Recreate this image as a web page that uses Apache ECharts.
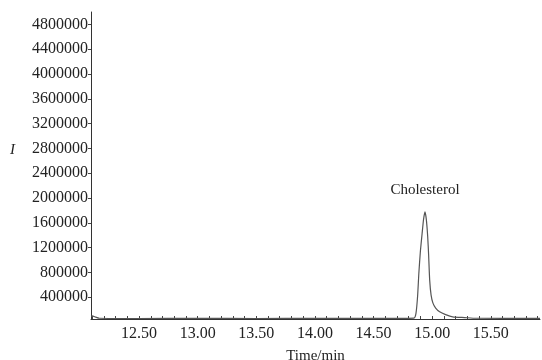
<!DOCTYPE html>
<html>
<head>
<meta charset="utf-8">
<script src="https://cdn.jsdelivr.net/npm/echarts@6/dist/echarts.min.js"></script>
<style>
  html, body { margin: 0; padding: 0; background: #fff; }
  #chart { width: 542px; height: 360px; }
</style>
</head>
<body>
<div id="chart"></div>
<script>
// chromatogram trace, time in min, intensity I
const times = [12.09, 12.1, 12.13, 12.16, 12.5, 13.0, 13.5, 14.0, 14.5, 14.845, 14.862, 14.876, 14.887, 14.9,
  14.914, 14.927, 14.939, 14.95, 14.962, 14.97, 14.979, 14.991, 15.007, 15.03, 15.064,
  15.115, 15.175, 15.277, 15.377, 15.6, 15.92];
const intensity = [95000, 100000, 80000, 62000, 58000, 60000, 58000, 60000, 60000, 65000, 140000, 420000, 800000, 1150000,
  1420000, 1660000, 1779000, 1660000, 1380000, 1081000, 677000, 435000, 306000, 226000, 166000,
  121000, 85000, 73000, 62000, 60000, 60000];

const xTickLabels = [12.5, 13.0, 13.5, 14.0, 14.5, 15.0, 15.5];
const yTickLabels = [400000, 800000, 1200000, 1600000, 2000000, 2400000, 2800000,
  3200000, 3600000, 4000000, 4400000, 4800000];
const peakName = 'Cholesterol';
const peakIndex = 16;

// small ticks every 0.1 min
const xTicks = [];
for (let t = 121; t <= 159; t++) xTicks.push(t / 10);

const chart = echarts.init(document.getElementById('chart'));

const serif = '"Liberation Serif", "DejaVu Serif", serif';
const ink = '#222';

const points = times.map((t, i) => [t, intensity[i]]);

chart.setOption({
  animation: false,
  grid: { left: 91, right: 2, top: 12, bottom: 41, containLabel: false, outerBoundsMode: 'none' },
  xAxis: {
    type: 'value',
    min: 12.09,
    max: 15.92,
    name: 'Time/min',
    nameLocation: 'middle',
    nameGap: 30,
    nameTextStyle: { fontFamily: serif, fontSize: 15, color: ink },
    axisLine: { lineStyle: { color: '#333', width: 1 } },
    axisTick: { customValues: xTicks, length: 3, inside: true, lineStyle: { color: '#444' } },
    axisLabel: {
      customValues: xTickLabels,
      formatter: (v) => v.toFixed(2),
      fontFamily: serif,
      fontSize: 16,
      color: ink,
      margin: 7
    },
    splitLine: { show: false }
  },
  yAxis: {
    type: 'value',
    min: 50000,
    max: 5000000,
    name: 'I',
    nameLocation: 'middle',
    nameRotate: 0,
    nameGap: 76,
    nameTextStyle: {
      fontFamily: serif, fontSize: 15, fontStyle: 'italic', color: ink,
      verticalAlign: 'bottom', lineHeight: 30
    },
    axisLine: { show: true, lineStyle: { color: '#333', width: 1 } },
    axisTick: { show: true, customValues: yTickLabels, length: 3, lineStyle: { color: '#444' } },
    axisLabel: {
      customValues: yTickLabels,
      formatter: (v) => String(v),
      fontFamily: serif,
      fontSize: 16,
      color: ink,
      margin: 3
    },
    splitLine: { show: false }
  },
  series: [{
    type: 'line',
    data: points,
    showSymbol: false,
    symbol: 'none',
    smooth: 0.2,
    lineStyle: { color: '#555', width: 1.2 },
    markPoint: {
      symbol: 'circle',
      symbolSize: 0,
      data: [{ coord: points[peakIndex] }],
      label: {
        show: true,
        position: 'top',
        distance: 14,
        formatter: peakName,
        fontFamily: serif,
        fontSize: 15,
        color: ink
      }
    }
  }]
});
</script>
</body>
</html>
